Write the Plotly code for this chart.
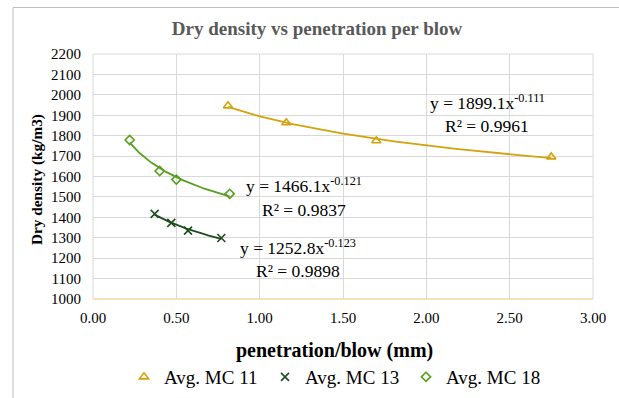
import numpy as np
import plotly.graph_objects as go

# ---- data ----
series_names = ["Avg. MC 11", "Avg. MC 13", "Avg. MC 18"]
mc11_x = [0.81, 1.16, 1.70, 2.75]
mc11_y = [1946, 1863, 1775, 1696]
mc13_x = [0.37, 0.47, 0.57, 0.77]
mc13_y = [1417, 1373, 1335, 1299]
mc18_x = [0.22, 0.40, 0.50, 0.82]
mc18_y = [1779, 1627, 1585, 1515]
eq_texts = ["y = 1899.1x<sup>-0.111</sup>", "y = 1252.8x<sup>-0.123</sup>", "y = 1466.1x<sup>-0.121</sup>"]
r2_texts = ["R² = 0.9961", "R² = 0.9898", "R² = 0.9837"]
x_ticks = [0, 0.5, 1.0, 1.5, 2.0, 2.5, 3.0]
y_ticks = list(range(1000, 2201, 100))

colors = ["#D4A20C", "#1E4D1E", "#55A01C"]
symbols = ["triangle-up-open", "x-thin-open", "diamond-open"]
sizes = [8, 8, 7]

SERIF = "Liberation Serif, Times New Roman, serif"

fig = go.Figure()
data = [(mc11_x, mc11_y), (mc13_x, mc13_y), (mc18_x, mc18_y)]
for (xs, ys), name, c, sym, sz in zip(data, series_names, colors, symbols, sizes):
    # power trendline fitted from the data (least squares in log-log space)
    b, lna = np.polyfit(np.log(xs), np.log(ys), 1)
    xf = np.linspace(min(xs), max(xs), 60)
    yf = np.exp(lna) * xf ** b
    fig.add_trace(go.Scatter(x=xf, y=yf, mode="lines", line=dict(color=c, width=1.8),
                             showlegend=False, hoverinfo="skip"))
for (xs, ys), name, c, sym, sz in zip(data, series_names, colors, symbols, sizes):
    fig.add_trace(go.Scatter(x=xs, y=ys, mode="markers", name=name,
                             marker=dict(symbol=sym, size=sz, color=c,
                                         line=dict(color=c, width=1.6))))

# plot area pixel geometry
L, R, T, B = 93, 593, 54, 299
W, H = 619, 398
def px(x):
    return (x - L) / (R - L)
def py(y):
    return (B - y) / (B - T)

# trendline labels: (center x px, equation bottom px, R² top px)
label_pos = [(487, 115, 114), (298, 260, 259), (304, 198, 198)]
for (cx, eq_b, r2_t), eq, r2 in zip(label_pos, eq_texts, r2_texts):
    fig.add_annotation(x=px(cx), y=py(eq_b), xref="paper", yref="paper", text=eq, showarrow=False,
                       xanchor="center", yanchor="bottom",
                       font=dict(family=SERIF, size=17.5, color="#000000"))
    fig.add_annotation(x=px(cx), y=py(r2_t), xref="paper", yref="paper", text=r2, showarrow=False,
                       xanchor="center", yanchor="top",
                       font=dict(family=SERIF, size=17.5, color="#000000"))

# axis titles
fig.add_annotation(x=px(334), y=py(350), xref="paper", yref="paper",
                   text="<b>penetration/blow (mm)</b>", showarrow=False,
                   xanchor="center", yanchor="middle",
                   font=dict(family=SERIF, size=20, color="#000000"))
fig.add_annotation(x=px(37), y=py(180), xref="paper", yref="paper", textangle=-90,
                   text="<b>Dry density (kg/m3)</b>", showarrow=False,
                   xanchor="center", yanchor="middle",
                   font=dict(family=SERIF, size=15.3, color="#000000"))

# plot-area border and outer chart frame
fig.add_shape(type="rect", xref="paper", yref="paper", x0=0, x1=1, y0=0, y1=1,
              line=dict(color="#D9D9D9", width=1), layer="below")
fig.add_shape(type="line", xref="paper", yref="paper", x0=0, x1=1, y0=0, y1=0,
              line=dict(color="#EFD98C", width=1.2))
fig.add_shape(type="rect", xref="paper", yref="paper", x0=px(13), x1=px(640), y0=py(420), y1=py(7.5),
              line=dict(color="#BFBFBF", width=1))

fig.update_layout(
    width=W, height=H,
    margin=dict(l=L, r=W - R, t=T, b=H - B, autoexpand=False),
    paper_bgcolor="#FFFFFF", plot_bgcolor="#FFFFFF",
    title=dict(text="<b>Dry density vs penetration per blow</b>", x=px(317), xref="paper",
               xanchor="center", y=1 - 28 / H, yanchor="middle",
               font=dict(family=SERIF, size=19, color="#595959")),
    xaxis=dict(range=[0, 3], tickvals=x_ticks, ticktext=[f"{v:.2f}" for v in x_ticks],
               showgrid=True, gridcolor="#D9D9D9", gridwidth=1, zeroline=False, showline=False,
               ticks="", ticklabelstandoff=8,
               tickfont=dict(family=SERIF, size=15, color="#000000")),
    yaxis=dict(range=[1000, 2200], tickvals=y_ticks, showgrid=True, gridcolor="#D9D9D9",
               gridwidth=1, zeroline=False, showline=False, ticks="", ticklabelstandoff=11,
               tickfont=dict(family=SERIF, size=15, color="#000000")),
    legend=dict(orientation="h", xref="container", yref="container",
                x=124 / W, xanchor="left", y=1 - 377 / H, yanchor="middle",
                font=dict(family=SERIF, size=19, color="#000000"), itemwidth=30,
                entrywidth=96, bgcolor="rgba(0,0,0,0)"),
    showlegend=True,
)

fig.write_html("out.html", config={"displayModeBar": False},
               post_script="document.body.style.margin='0';document.body.style.padding='0';")
